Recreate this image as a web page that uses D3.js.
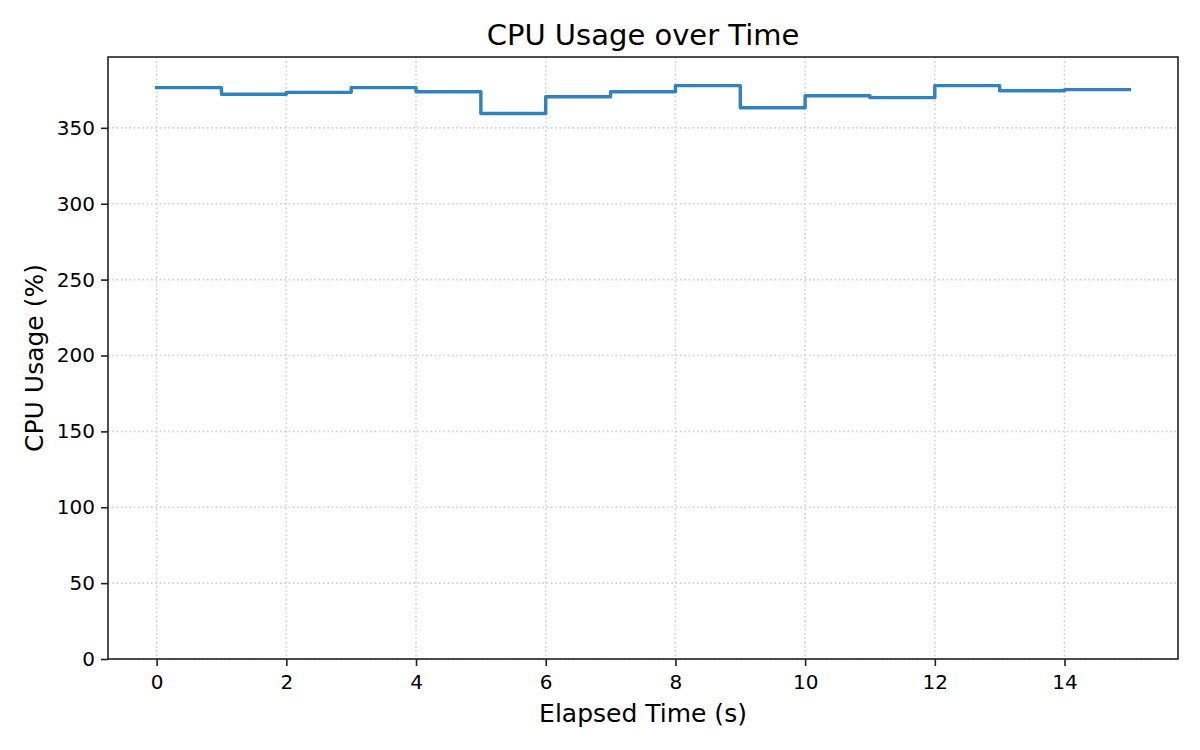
<!DOCTYPE html>
<html>
<head>
<meta charset="utf-8">
<script src="https://cdn.jsdelivr.net/npm/d3@7"></script>
<style>
  html, body { margin: 0; padding: 0; background: #fff; }
  svg { display: block; font-family: "DejaVu Sans", sans-serif; }
</style>
</head>
<body>
<svg id="chart" width="1200" height="750"></svg>
<script>
// Data
const times = [0, 1, 2, 3, 4, 5, 6, 7, 8, 9, 10, 11, 12, 13, 14, 15];
const cpuUsage = [376.5, 372.1, 373.4, 376.5, 373.8, 359.5, 370.5, 373.8, 377.8, 363.2, 371.2, 369.9, 377.8, 374.5, 375.2, 375.2];
const xTicks = [0, 2, 4, 6, 8, 10, 12, 14];
const yTicks = [0, 50, 100, 150, 200, 250, 300, 350];
const titleText = "CPU Usage over Time";
const xLabel = "Elapsed Time (s)";
const yLabel = "CPU Usage (%)";

(function () {
const svg = d3.select("#chart");
const mLeft = 108, mRight = 1178, mTop = 57, mBottom = 659;

const x = d3.scaleLinear().domain([-0.75, 15.75]).range([mLeft, mRight]);
const y = d3.scaleLinear().domain([0, d3.max(cpuUsage) * 1.05]).range([mBottom, mTop]);

const gridColor = "#d0d0d0";
// grid
svg.append("g").selectAll("line").data(xTicks).join("line")
  .attr("x1", d => x(d)).attr("x2", d => x(d))
  .attr("y1", mTop).attr("y2", mBottom)
  .attr("stroke", gridColor).attr("stroke-width", 1.6)
  .attr("stroke-dasharray", "1.6,2.7");
svg.append("g").selectAll("line").data(yTicks).join("line")
  .attr("x1", mLeft).attr("x2", mRight)
  .attr("y1", d => y(d)).attr("y2", d => y(d))
  .attr("stroke", gridColor).attr("stroke-width", 1.6)
  .attr("stroke-dasharray", "1.6,2.7");

// step line
const line = d3.line()
  .x((d, i) => x(times[i]))
  .y(d => y(d))
  .curve(d3.curveStepAfter);
svg.append("path")
  .datum(cpuUsage)
  .attr("d", line)
  .attr("fill", "none")
  .attr("stroke", "#3182bd")
  .attr("stroke-width", 3.4)
  .attr("stroke-linejoin", "round")
  .attr("stroke-linecap", "square");

// axes
const axisColor = "#222";
const xAxis = d3.axisBottom(x).tickValues(xTicks).tickSize(7).tickPadding(8).tickFormat(d3.format("d"));
const yAxis = d3.axisLeft(y).tickValues(yTicks).tickSize(7).tickPadding(6).tickFormat(d3.format("d"));

const gx = svg.append("g").attr("transform", `translate(0,${mBottom})`).call(xAxis);
const gy = svg.append("g").attr("transform", `translate(${mLeft},0)`).call(yAxis);
[gx, gy].forEach(g => {
  g.select(".domain").remove();
  g.selectAll(".tick line").attr("stroke", axisColor).attr("stroke-width", 1.6);
  g.selectAll(".tick text").attr("fill", "#000").style("font-size", "20px").style("font-family", "DejaVu Sans");
});
gx.selectAll(".tick text").attr("dy", "0.76em");

// frame
svg.append("rect")
  .attr("x", mLeft).attr("y", mTop)
  .attr("width", mRight - mLeft).attr("height", mBottom - mTop)
  .attr("fill", "none").attr("stroke", axisColor).attr("stroke-width", 1.6);

// title & labels
svg.append("text")
  .attr("x", (mLeft + mRight) / 2).attr("y", 35)
  .attr("text-anchor", "middle").attr("dominant-baseline", "central")
  .style("font-size", "29px").attr("fill", "#000")
  .text(titleText);
svg.append("text")
  .attr("x", (mLeft + mRight) / 2).attr("y", 713)
  .attr("text-anchor", "middle").attr("dominant-baseline", "central")
  .style("font-size", "25px").attr("fill", "#000")
  .text(xLabel);
svg.append("text")
  .attr("transform", `translate(34,${(mTop + mBottom) / 2}) rotate(-90)`)
  .attr("text-anchor", "middle").attr("dominant-baseline", "central")
  .style("font-size", "25px").attr("fill", "#000")
  .text(yLabel);
})();
</script>
</body>
</html>
